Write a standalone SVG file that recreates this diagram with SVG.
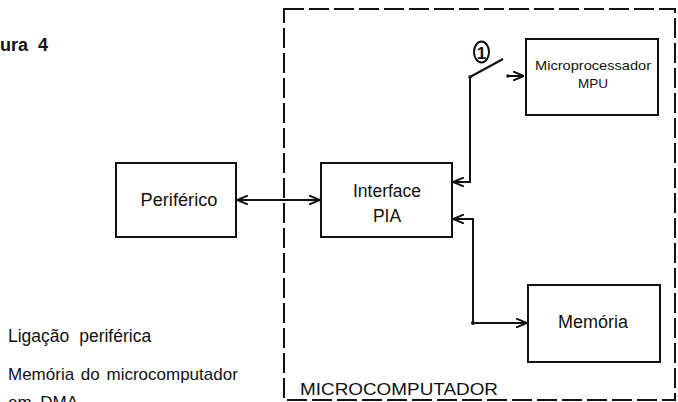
<svg xmlns="http://www.w3.org/2000/svg" width="678" height="402" viewBox="0 0 678 402">
<style>
text{font-family:"Liberation Sans",Arial,sans-serif;fill:#111}
.box{fill:#fff;stroke:#111;stroke-width:2}
.ln{fill:none;stroke:#111;stroke-width:2}
.dash{fill:none;stroke:#111;stroke-width:2;stroke-dasharray:20 5}
</style>
<defs>
<marker id="ah" viewBox="0 0 11 10" refX="11" refY="5" markerWidth="11" markerHeight="10" markerUnits="userSpaceOnUse" orient="auto-start-reverse">
<path d="M0,0.5 L11,5 L0,9.5" fill="none" stroke="#111" stroke-width="2"/>
</marker>
</defs>
<rect x="0" y="0" width="678" height="402" fill="#fff"/>
<text x="0" y="51" font-size="18" font-weight="bold" word-spacing="5">ura 4</text>
<text x="8" y="342" font-size="17.5" word-spacing="5">Ligação periférica</text>
<text x="8" y="380" font-size="17" word-spacing="2">Memória do microcomputador</text>
<text x="8" y="408" font-size="17" word-spacing="4">em DMA</text>
<g id="microcomputador">
<rect class="dash" x="284" y="9" width="391" height="391"/>
<text x="300" y="395" font-size="17" textLength="198" lengthAdjust="spacingAndGlyphs">MICROCOMPUTADOR</text>
</g>
<g id="periferico">
<rect class="box" x="116" y="163" width="120" height="74"/>
<text x="179" y="206" font-size="17.5" text-anchor="middle" textLength="77" lengthAdjust="spacingAndGlyphs">Periférico</text>
</g>
<g id="pia">
<rect class="box" x="321" y="163" width="131" height="74"/>
<text x="387" y="197" font-size="17.5" text-anchor="middle">Interface</text>
<text x="387" y="222" font-size="17.5" text-anchor="middle">PIA</text>
</g>
<g id="mpu">
<rect class="box" x="526" y="39" width="132" height="76"/>
<text x="593" y="70" font-size="13.5" text-anchor="middle" textLength="116" lengthAdjust="spacingAndGlyphs">Microprocessador</text>
<text x="593" y="88" font-size="13.5" text-anchor="middle">MPU</text>
</g>
<g id="memoria">
<rect class="box" x="528" y="285" width="132" height="77"/>
<text x="593" y="328" font-size="18" text-anchor="middle">Memória</text>
</g>
<g id="switch">
<ellipse cx="481.5" cy="52" rx="7.5" ry="10.5" fill="none" stroke="#111" stroke-width="2"/>
<text x="481.5" y="58.5" font-size="17" font-weight="bold" text-anchor="middle">1</text>
</g>
<g id="connectors">
<line class="ln" x1="237" y1="200" x2="320" y2="200" marker-start="url(#ah)" marker-end="url(#ah)"/>
<polyline class="ln" points="470,77 470,182 453,182" marker-end="url(#ah)"/>
<line class="ln" x1="470" y1="77" x2="503" y2="59"/>
<circle cx="470" cy="77" r="1.8" fill="#111"/>
<line class="ln" x1="507" y1="76" x2="524" y2="76" marker-end="url(#ah)"/>
<circle cx="508" cy="76" r="1.8" fill="#111"/>
<polyline class="ln" points="453,219 473,219 473,323 527,323" marker-start="url(#ah)" marker-end="url(#ah)"/>
<circle cx="473" cy="323" r="2" fill="#111"/>
</g>
</svg>
